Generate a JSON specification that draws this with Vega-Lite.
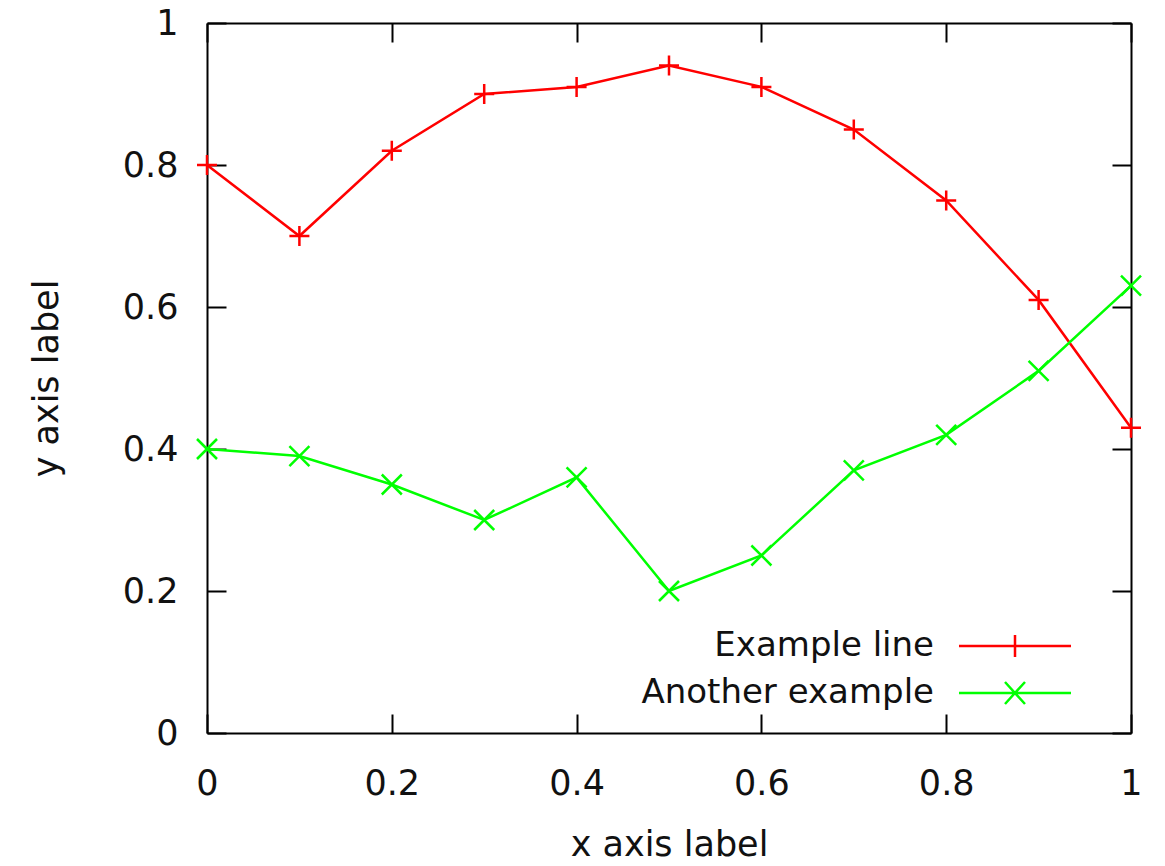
{
  "$schema": "https://vega.github.io/schema/vega-lite/v6.json",
  "width": 924,
  "height": 710,
  "autosize": {"type": "none"},
  "padding": {"left": 207, "top": 23, "right": 34, "bottom": 133},
  "background": "white",
  "config": {
    "view": {"stroke": null},
    "axis": {
      "labelFont": "DejaVu Sans",
      "labelFontSize": 35,
      "labelColor": "#111111",
      "titleFont": "DejaVu Sans",
      "titleFontSize": 35,
      "titleFontWeight": "normal",
      "titleColor": "#111111",
      "domainColor": "#000000",
      "domainWidth": 2,
      "tickColor": "#000000",
      "tickWidth": 2,
      "tickSize": -19,
      "grid": false
    },
    "legend": {
      "labelFont": "DejaVu Sans",
      "labelFontSize": 34,
      "labelColor": "#111111",
      "labelLimit": 0
    }
  },
  "data": {
    "values": [
      {"x": 0.0, "y": 0.80, "series": "Example line"},
      {"x": 0.1, "y": 0.70, "series": "Example line"},
      {"x": 0.2, "y": 0.82, "series": "Example line"},
      {"x": 0.3, "y": 0.90, "series": "Example line"},
      {"x": 0.4, "y": 0.91, "series": "Example line"},
      {"x": 0.5, "y": 0.94, "series": "Example line"},
      {"x": 0.6, "y": 0.91, "series": "Example line"},
      {"x": 0.7, "y": 0.85, "series": "Example line"},
      {"x": 0.8, "y": 0.75, "series": "Example line"},
      {"x": 0.9, "y": 0.61, "series": "Example line"},
      {"x": 1.0, "y": 0.43, "series": "Example line"},
      {"x": 0.0, "y": 0.40, "series": "Another example"},
      {"x": 0.1, "y": 0.39, "series": "Another example"},
      {"x": 0.2, "y": 0.35, "series": "Another example"},
      {"x": 0.3, "y": 0.30, "series": "Another example"},
      {"x": 0.4, "y": 0.36, "series": "Another example"},
      {"x": 0.5, "y": 0.20, "series": "Another example"},
      {"x": 0.6, "y": 0.25, "series": "Another example"},
      {"x": 0.7, "y": 0.37, "series": "Another example"},
      {"x": 0.8, "y": 0.42, "series": "Another example"},
      {"x": 0.9, "y": 0.51, "series": "Another example"},
      {"x": 1.0, "y": 0.63, "series": "Another example"}
    ]
  },
  "layer": [
    {
      "mark": {"type": "line", "strokeWidth": 2.5},
      "encoding": {
        "x": {
          "field": "x", "type": "quantitative",
          "scale": {"domain": [0, 1], "nice": false, "zero": false},
          "axis": {"orient": "bottom", "title": "x axis label", "values": [0, 0.2, 0.4, 0.6, 0.8, 1], "format": "~g", "labelPadding": 52, "titlePadding": 26, "labelFlush": false}
        },
        "y": {
          "field": "y", "type": "quantitative",
          "scale": {"domain": [0, 1], "nice": false, "zero": false},
          "axis": {"orient": "left", "title": "y axis label", "values": [0, 0.2, 0.4, 0.6, 0.8, 1], "format": "~g", "labelPadding": 48, "titlePadding": 58, "labelFlush": false}
        },
        "color": {
          "field": "series", "type": "nominal",
          "scale": {"domain": ["Example line", "Another example"], "range": ["#ff0000", "#00ff00"]},
          "legend": {
            "title": null,
            "orient": "none",
            "legendX": 782,
            "legendY": 597,
            "symbolSize": 2401,
            "symbolStrokeWidth": 2.5,
            "labelAlign": "right",
            "labelOffset": -107,
            "rowPadding": 4,
            "encode": {
              "symbols": {
                "update": {
                  "shape": {"signal": "datum.value == 'Example line' ? 'M-2.286,0H2.286M0,-0.449V0.449' : 'M-2.286,0H2.286M-0.408,-0.449L0.408,0.449M-0.408,0.449L0.408,-0.449'"},
                  "fill": {"value": "transparent"}
                }
              }
            }
          }
        }
      }
    },
    {
      "transform": [{"filter": "datum.series == 'Example line'"}],
      "mark": {"type": "point", "strokeWidth": 2.5, "filled": false, "size": 400, "opacity": 1, "shape": "M-1,0H1M0,-1V1", "color": "#ff0000"},
      "encoding": {
        "x": {
          "field": "x", "type": "quantitative",
          "axis": {"orient": "top", "title": null, "labels": false, "values": [0, 0.2, 0.4, 0.6, 0.8, 1]}
        },
        "y": {
          "field": "y", "type": "quantitative",
          "axis": {"orient": "right", "title": null, "labels": false, "values": [0, 0.2, 0.4, 0.6, 0.8, 1]}
        }
      }
    },
    {
      "transform": [{"filter": "datum.series == 'Another example'"}],
      "mark": {"type": "point", "strokeWidth": 2.5, "filled": false, "size": 400, "opacity": 1, "shape": "M-1,-1L1,1M-1,1L1,-1", "color": "#00ff00"},
      "encoding": {
        "x": {"field": "x", "type": "quantitative", "axis": null},
        "y": {"field": "y", "type": "quantitative", "axis": null}
      }
    }
  ],
  "resolve": {"axis": {"x": "independent", "y": "independent"}}
}
